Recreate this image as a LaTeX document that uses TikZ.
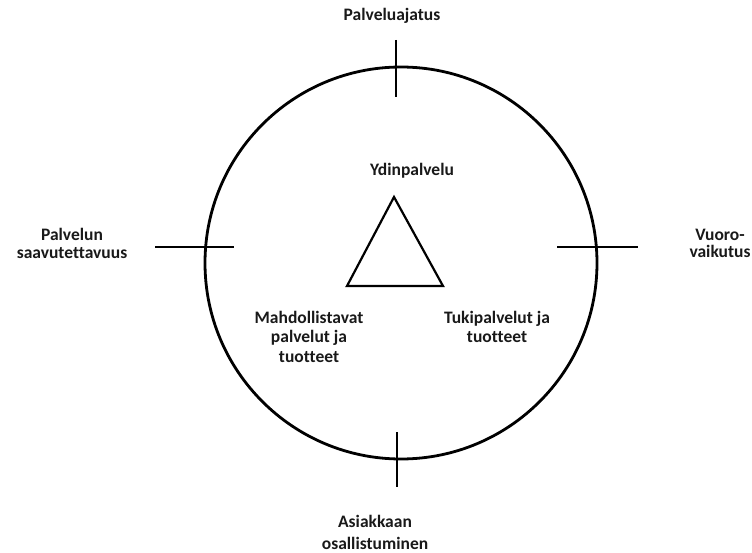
\documentclass[tikz,border=0pt]{standalone}
\usepackage{fontspec}
\setmainfont{Carlito}[Ligatures={NoCommon}]
\begin{document}
\begin{tikzpicture}[x=1pt,y=-1pt,
  lbl/.style={font=\bfseries\fontsize{17.5}{19}\selectfont, align=center, inner sep=0pt, text=black!90},
  tick/.style={line width=1.8pt},
]
\useasboundingbox[fill=white] (0,0) rectangle (752,553);
\node[circle, draw, line width=2.8pt, minimum size=392pt, inner sep=0pt] (ring) at (401,263) {};
% ticks
\coordinate (t1) at (396,40); \coordinate (t2) at (396,97);
\coordinate (b1) at (397,432); \coordinate (b2) at (397,487);
\coordinate (l1) at (155,247); \coordinate (l2) at (234,247);
\coordinate (r1) at (557,247); \coordinate (r2) at (638,247);
\draw[tick] (t1) -- (t2);
\draw[tick] (b1) -- (b2);
\draw[tick] (l1) -- (l2);
\draw[tick] (r1) -- (r2);
% triangle
\coordinate (apex) at (394,197);
\coordinate (bl) at (347,286);
\coordinate (br) at (443,286);
\draw[line width=2.2pt, line join=miter] (apex) -- (bl) -- (br) -- cycle;
% labels
\node[lbl] (top) at (392,16) {Palveluajatus};
\node[lbl] (core) at (412,171) {Ydinpalvelu};
\node[lbl, font=\bfseries\fontsize{17.5}{17.5}\selectfont] (right) at (720,243.5) {Vuoro-\\vaikutus};
\node[lbl, font=\bfseries\fontsize{17.5}{17.5}\selectfont] (left) at (72,243.5) {Palvelun\\saavutettavuus};
\node[lbl, font=\bfseries\fontsize{17.5}{22}\selectfont] (bottom) at (375,532) {Asiakkaan\\osallistuminen};
\node[lbl, font=\bfseries\fontsize{17.5}{19.5}\selectfont] (enab) at (309,336.5) {Mahdollistavat\\palvelut ja\\tuotteet};
\node[lbl, font=\bfseries\fontsize{17.5}{19.5}\selectfont] (supp) at (497,327) {Tukipalvelut ja\\tuotteet};
\end{tikzpicture}
\end{document}
